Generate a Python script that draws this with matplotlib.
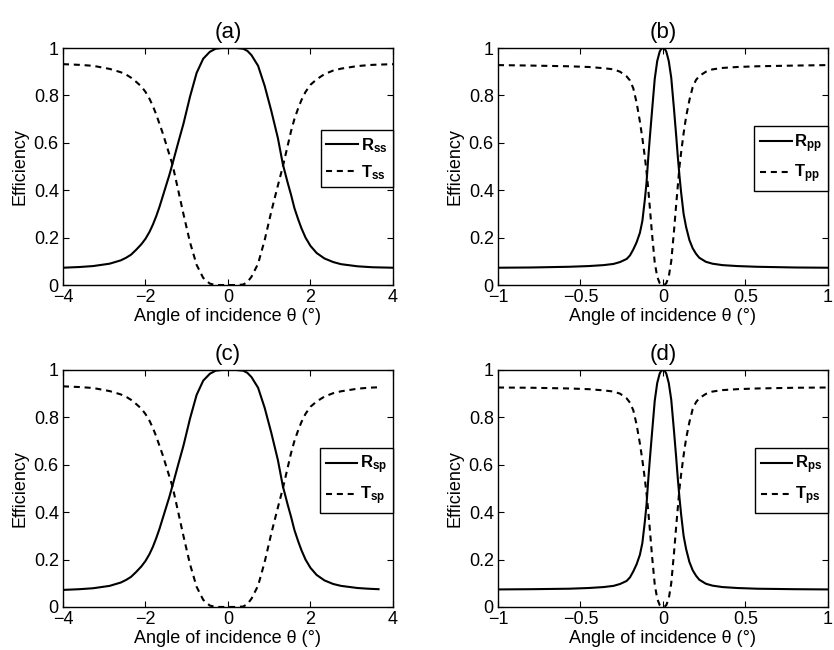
import numpy as np
import matplotlib
matplotlib.use('Agg')
import matplotlib.pyplot as plt

# Fonts: Helvetica-like, bold math for legend labels
plt.rcParams['font.family'] = ['Liberation Sans', 'DejaVu Sans']
plt.rcParams['mathtext.fontset'] = 'custom'
plt.rcParams['mathtext.rm'] = 'Liberation Sans'
plt.rcParams['mathtext.bf'] = 'Liberation Sans:bold'

# ── Data ──────────────────────────────────────────────────────────────────────
# (a) s -> s, wide angular range
theta_a = [-4.0, -3.6, -3.27, -2.87, -2.6, -2.47, -2.35, -2.23, -2.1, -2.0,
           -1.9, -1.82, -1.74, -1.66, -1.58, -1.5, -1.42, -1.34, -1.2, -1.08,
           -0.92, -0.76, -0.6, -0.44, -0.3, -0.15, 0.0, 0.2, 0.37, 0.47,
           0.57, 0.73, 0.89, 1.05, 1.21, 1.33, 1.45, 1.53, 1.61, 1.7,
           1.78, 1.88, 2.0, 2.15, 2.34, 2.55, 2.74, 3.14, 3.5, 4.0]
R_ss = [0.073, 0.076, 0.080, 0.090, 0.104, 0.115, 0.128, 0.148, 0.172, 0.195,
        0.225, 0.255, 0.29, 0.33, 0.375, 0.42, 0.465, 0.515, 0.605, 0.68,
        0.795, 0.895, 0.955, 0.984, 0.997, 1.0, 1.0, 1.0, 0.997, 0.988,
        0.97, 0.925, 0.84, 0.735, 0.62, 0.51, 0.43, 0.38, 0.325, 0.278,
        0.24, 0.2, 0.165, 0.135, 0.112, 0.097, 0.088, 0.079, 0.075, 0.073]
T_ss = [0.932, 0.929, 0.925, 0.912, 0.898, 0.888, 0.875, 0.858, 0.838, 0.815,
        0.785, 0.755, 0.72, 0.68, 0.64, 0.595, 0.55, 0.505, 0.395, 0.30,
        0.18, 0.085, 0.03, 0.006, 0.0, 0.0, 0.0, 0.0, 0.002, 0.012,
        0.035, 0.09, 0.19, 0.31, 0.42, 0.50, 0.59, 0.65, 0.70, 0.745,
        0.78, 0.815, 0.845, 0.868, 0.89, 0.905, 0.913, 0.924, 0.929, 0.932]

# (b) p -> p, narrow angular range
theta_b = [-1.0, -0.8, -0.57, -0.45, -0.36, -0.3, -0.26, -0.22, -0.2, -0.18,
           -0.16, -0.14, -0.125, -0.11, -0.1, -0.09, -0.08, -0.067, -0.05, -0.035,
           -0.02, -0.01, 0.0, 0.01, 0.02, 0.035, 0.05, 0.067, 0.08, 0.09,
           0.1, 0.11, 0.125, 0.14, 0.16, 0.18, 0.2, 0.22, 0.26, 0.3,
           0.36, 0.45, 0.57, 0.8, 1.0]
R_pp = [0.073, 0.074, 0.077, 0.080, 0.084, 0.089, 0.097, 0.11, 0.125, 0.15,
        0.18, 0.22, 0.27, 0.36, 0.43, 0.53, 0.62, 0.73, 0.87, 0.945,
        0.985, 0.997, 1.0, 0.997, 0.985, 0.945, 0.875, 0.74, 0.63, 0.54,
        0.46, 0.39, 0.30, 0.245, 0.19, 0.155, 0.132, 0.115, 0.098, 0.09,
        0.084, 0.08, 0.077, 0.074, 0.073]
T_pp = [0.928, 0.926, 0.923, 0.92, 0.915, 0.91, 0.90, 0.88, 0.863, 0.83,
        0.77, 0.69, 0.62, 0.54, 0.48, 0.41, 0.33, 0.22, 0.095, 0.035,
        0.008, 0.001, 0.0, 0.001, 0.008, 0.035, 0.10, 0.23, 0.34, 0.42,
        0.50, 0.56, 0.64, 0.71, 0.78, 0.835, 0.865, 0.882, 0.90, 0.91,
        0.916, 0.92, 0.923, 0.926, 0.928]

# (c) s -> p, same range as (a) but data stops near 3.65
theta_c = [-4.0, -3.6, -3.27, -2.87, -2.6, -2.47, -2.35, -2.23, -2.1, -2.0,
           -1.9, -1.82, -1.74, -1.66, -1.58, -1.5, -1.42, -1.34, -1.2, -1.08,
           -0.92, -0.76, -0.6, -0.44, -0.3, -0.15, 0.0, 0.2, 0.37, 0.47,
           0.57, 0.73, 0.89, 1.05, 1.21, 1.33, 1.45, 1.53, 1.61, 1.7,
           1.78, 1.88, 2.0, 2.15, 2.34, 2.55, 2.74, 3.14, 3.4, 3.65]
R_sp = [0.072, 0.075, 0.079, 0.089, 0.103, 0.114, 0.127, 0.147, 0.171, 0.194,
        0.224, 0.254, 0.29, 0.33, 0.375, 0.42, 0.465, 0.515, 0.605, 0.68,
        0.795, 0.895, 0.955, 0.984, 0.997, 1.0, 1.0, 1.0, 0.997, 0.988,
        0.97, 0.925, 0.84, 0.735, 0.62, 0.51, 0.43, 0.38, 0.325, 0.278,
        0.24, 0.2, 0.165, 0.135, 0.112, 0.097, 0.089, 0.08, 0.077, 0.075]
T_sp = [0.931, 0.928, 0.924, 0.911, 0.897, 0.887, 0.874, 0.857, 0.837, 0.814,
        0.785, 0.755, 0.72, 0.68, 0.64, 0.595, 0.55, 0.505, 0.395, 0.30,
        0.18, 0.085, 0.03, 0.006, 0.0, 0.0, 0.0, 0.0, 0.002, 0.012,
        0.035, 0.09, 0.19, 0.31, 0.42, 0.50, 0.59, 0.65, 0.70, 0.745,
        0.78, 0.815, 0.845, 0.867, 0.888, 0.902, 0.91, 0.921, 0.925, 0.927]

# (d) p -> s
theta_d = [-1.0, -0.8, -0.57, -0.45, -0.36, -0.3, -0.26, -0.22, -0.2, -0.18,
           -0.16, -0.14, -0.125, -0.11, -0.1, -0.09, -0.08, -0.067, -0.05, -0.035,
           -0.02, -0.01, 0.0, 0.01, 0.02, 0.035, 0.05, 0.067, 0.08, 0.09,
           0.1, 0.11, 0.125, 0.14, 0.16, 0.18, 0.2, 0.22, 0.26, 0.3,
           0.36, 0.45, 0.57, 0.8, 1.0]
R_ps = [0.074, 0.075, 0.077, 0.080, 0.084, 0.089, 0.097, 0.11, 0.125, 0.15,
        0.18, 0.22, 0.27, 0.36, 0.43, 0.53, 0.62, 0.73, 0.87, 0.945,
        0.985, 0.997, 1.0, 0.997, 0.985, 0.945, 0.875, 0.74, 0.63, 0.54,
        0.46, 0.39, 0.30, 0.245, 0.19, 0.155, 0.132, 0.115, 0.098, 0.09,
        0.084, 0.08, 0.077, 0.075, 0.074]
T_ps = [0.926, 0.925, 0.922, 0.919, 0.914, 0.909, 0.90, 0.88, 0.862, 0.83,
        0.77, 0.69, 0.62, 0.54, 0.48, 0.41, 0.33, 0.22, 0.095, 0.035,
        0.008, 0.001, 0.0, 0.001, 0.008, 0.035, 0.10, 0.23, 0.34, 0.42,
        0.50, 0.56, 0.64, 0.71, 0.78, 0.835, 0.864, 0.881, 0.899, 0.909,
        0.915, 0.919, 0.922, 0.925, 0.926]

wide_ticks = [-4, -2, 0, 2, 4]
wide_labels = ['\u22124', '\u22122', '0', '2', '4']
narrow_ticks = [-1, -0.5, 0, 0.5, 1]
narrow_labels = ['\u22121', '\u22120.5', '0', '0.5', '1']
y_ticks = [0, 0.2, 0.4, 0.6, 0.8, 1]
y_labels = ['0', '0.2', '0.4', '0.6', '0.8', '1']

panels = [
    ('(a)', theta_a, R_ss, T_ss, 'ss', (-4, 4), wide_ticks, wide_labels),
    ('(b)', theta_b, R_pp, T_pp, 'pp', (-1, 1), narrow_ticks, narrow_labels),
    ('(c)', theta_c, R_sp, T_sp, 'sp', (-4, 4), wide_ticks, wide_labels),
    ('(d)', theta_d, R_ps, T_ps, 'ps', (-1, 1), narrow_ticks, narrow_labels),
]

# axes rectangles in figure fraction (left, bottom, width, height)
rects = [
    (0.0755, 0.5615, 0.3957, 0.3646),
    (0.5971, 0.5615, 0.3957, 0.3646),
    (0.0755, 0.0662, 0.3957, 0.3646),
    (0.5971, 0.0662, 0.3957, 0.3646),
]

fig = plt.figure(figsize=(8.34, 6.5), dpi=100)

for (title, th, R, T, sub, xlim, xt, xtl), rect in zip(panels, rects):
    ax = fig.add_axes(rect)
    ax.plot(th, R, color='black', lw=1.5, label=r'$\mathbf{R_{%s}}$' % sub)
    ln, = ax.plot(th, T, color='black', lw=1.5, linestyle='--',
                  label=r'$\mathbf{T_{%s}}$' % sub)
    ln.set_dashes([2.9, 2.3])

    ax.set_xlim(*xlim)
    ax.set_ylim(0, 1)
    ax.set_xticks(xt)
    ax.set_xticklabels(xtl)
    ax.set_yticks(y_ticks)
    ax.set_yticklabels(y_labels)
    ax.tick_params(direction='in', top=True, right=True, length=4,
                   width=0.8, labelsize=13, pad=3)
    for s in ax.spines.values():
        s.set_linewidth(1.0)

    ax.set_title(title, fontsize=16, pad=7)
    ax.set_xlabel('Angle of incidence \u03b8 (\u00b0)', fontsize=13, labelpad=1)
    ax.set_ylabel('Efficiency', fontsize=13, labelpad=4)

    leg = ax.legend(loc='center right', bbox_to_anchor=(1.0, 0.533),
                    fontsize=12, frameon=True, fancybox=False,
                    edgecolor='black', framealpha=1, handlelength=1.9,
                    handletextpad=0.15, borderpad=0.35, labelspacing=0.5,
                    borderaxespad=0)
    leg.get_frame().set_linewidth(1.0)

fig.savefig('out.png', dpi=100)
